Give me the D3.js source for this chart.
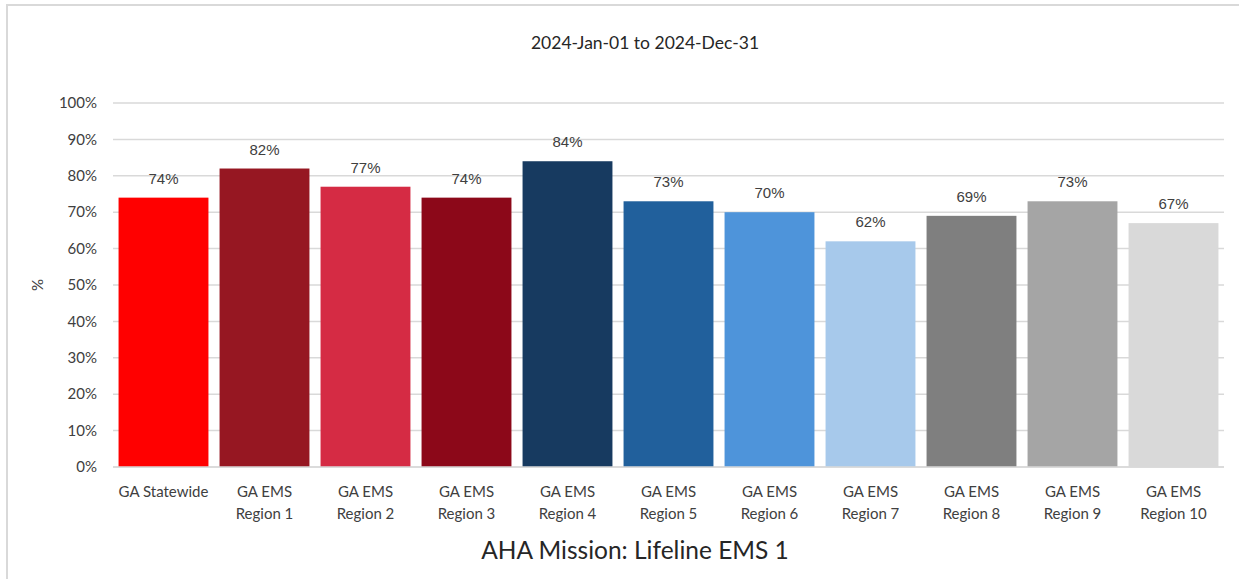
<!DOCTYPE html>
<html lang="en">
<head>
<meta charset="UTF-8">
<title>AHA Mission: Lifeline EMS 1</title>
<style>
  body { margin: 0; background: #fff; }
  svg { display: block; }
  .grid line { stroke: #d9d9d9; stroke-width: 1.5; }
  .tick-label { font-family: Lato, "Open Sans", sans-serif; font-size: 15px; fill: #404040; }
  .val { font-family: "Liberation Sans", Arial, sans-serif; font-size: 15px; fill: #404040; }
</style>
</head>
<body>
<script src="https://d3js.org/d3.v7.min.js"></script>
<svg id="chart"></svg>
<script>
  // data
  var categories = ["GA Statewide", "GA EMS Region 1", "GA EMS Region 2", "GA EMS Region 3",
    "GA EMS Region 4", "GA EMS Region 5", "GA EMS Region 6", "GA EMS Region 7",
    "GA EMS Region 8", "GA EMS Region 9", "GA EMS Region 10"];
  var values = [74, 82, 77, 74, 84, 73, 70, 62, 69, 73, 67];
  var barColors = ["#ff0000", "#961722", "#d52b44", "#8c0819", "#173a60", "#21609c",
    "#4e94da", "#a7c9eb", "#7f7f7f", "#a5a5a5", "#d9d9d9"];
  var yTicks = [0, 10, 20, 30, 40, 50, 60, 70, 80, 90, 100];

  var w = 1247, h = 579;
  var svg = d3.select("#chart").attr("width", w).attr("height", h);

  // outer frame (only top/left visible in the picture)
  svg.append("path")
    .attr("d", "M7,579 V5 H1239")
    .attr("fill", "none")
    .attr("stroke", "#d9d9d9")
    .attr("stroke-width", 2);

  var plotLeft = 113, plotRight = 1224, plotTop = 103, plotBottom = 467;

  var x = d3.scaleBand().domain(categories).range([plotLeft, plotRight]).paddingInner(0.11).paddingOuter(0.055);
  var y = d3.scaleLinear().domain([0, 100]).range([plotBottom, plotTop]);

  // gridlines
  svg.append("g").attr("class", "grid")
    .selectAll("line").data(yTicks).enter().append("line")
    .attr("x1", plotLeft).attr("x2", plotRight)
    .attr("y1", d => y(d)).attr("y2", d => y(d));

  // y labels
  svg.append("g").selectAll("text").data(yTicks).enter().append("text")
    .attr("class", "tick-label")
    .attr("x", 97).attr("y", d => y(d))
    .attr("dy", "0.35em")
    .attr("text-anchor", "end")
    .text(d => d + "%");

  svg.append("text")
    .attr("class", "tick-label")
    .attr("transform", "translate(43,285) rotate(-90)")
    .attr("text-anchor", "middle")
    .text("%");

  // bars
  svg.append("g").selectAll("rect").data(values).enter().append("rect")
    .attr("x", (d, i) => x(categories[i]))
    .attr("width", x.bandwidth())
    .attr("y", d => y(d))
    .attr("height", d => plotBottom - y(d))
    .attr("fill", (d, i) => barColors[i]);

  // value labels
  svg.append("g").selectAll("text").data(values).enter().append("text")
    .attr("class", "val")
    .attr("x", (d, i) => x(categories[i]) + x.bandwidth() / 2)
    .attr("y", d => y(d) - 14)
    .attr("text-anchor", "middle")
    .text(d => d + "%");

  // baseline
  svg.append("line")
    .attr("x1", plotLeft).attr("x2", plotRight)
    .attr("y1", plotBottom).attr("y2", plotBottom)
    .attr("stroke", "#d9d9d9").attr("stroke-width", 1.5);

  // category labels (two lines for regions)
  var xl = svg.append("g").selectAll("text").data(categories).enter().append("text")
    .attr("class", "tick-label")
    .attr("text-anchor", "middle")
    .attr("x", d => x(d) + x.bandwidth() / 2)
    .attr("y", 497);
  xl.each(function (d) {
    var t = d3.select(this);
    var m = d.match(/^(GA EMS) (Region \d+)$/);
    if (m) {
      t.append("tspan").attr("x", t.attr("x")).text(m[1]);
      t.append("tspan").attr("x", t.attr("x")).attr("dy", 22).text(m[2]);
    } else {
      t.text(d);
    }
  });

  // titles
  svg.append("text")
    .attr("x", 645).attr("y", 49)
    .attr("text-anchor", "middle")
    .style("font-family", "Lato, sans-serif")
    .style("font-size", "17.5px")
    .style("fill", "#262626")
    .text("2024-Jan-01 to 2024-Dec-31");

  svg.append("text")
    .attr("x", 635).attr("y", 559)
    .attr("text-anchor", "middle")
    .style("font-family", "Lato, sans-serif")
    .style("font-size", "24.5px")
    .style("fill", "#262626")
    .text("AHA Mission: Lifeline EMS 1");
</script>
</body>
</html>
